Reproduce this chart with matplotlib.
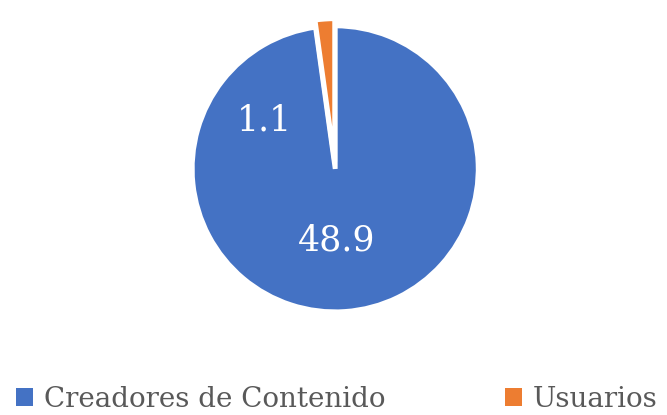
import matplotlib.pyplot as plt
from matplotlib.patches import Patch

labels = ['Creadores de Contenido', 'Usuarios']
values = [48.9, 1.1]
colors = ['#4472C4', '#ED7D31']

plt.rcParams['font.family'] = ['DejaVu Serif']

fig = plt.figure(figsize=(6.67, 4.15), dpi=100)
# pie axes: 286x286 px centred at (335, 166) from the top
ax = fig.add_axes([(335 - 143) / 667, (415 - 166 - 143) / 415, 286 / 667, 286 / 415])

wedges, texts, autotexts = ax.pie(values, colors=colors, startangle=90, counterclock=False,
                                  explode=[0.02, 0.03],
                                  autopct='%.1f', pctdistance=0.52,
                                  wedgeprops=dict(edgecolor='white', linewidth=3.5),
                                  textprops=dict(color='white', fontsize=25))
for t, v in zip(autotexts, values):
    t.set_text(f'{v:.1f}')
# small slice label sits inside the blue area, upper left
autotexts[1].set_position((-0.49, 0.32))
autotexts[0].set_position((0.01, -0.52))
ax.set_xlim(-1, 1)
ax.set_ylim(-1, 1)
ax.set_aspect('equal')
ax.axis('off')

handles = [Patch(facecolor=c, edgecolor='none') for c in colors]
fig.legend(handles, labels, loc='lower center', bbox_to_anchor=(0.505, -0.055), ncol=2,
           frameon=False, fontsize=20, labelcolor='#595959', columnspacing=4.3,
           handlelength=0.6, handleheight=0.6, handletextpad=0.4)

fig.savefig('out.png', dpi=100)
